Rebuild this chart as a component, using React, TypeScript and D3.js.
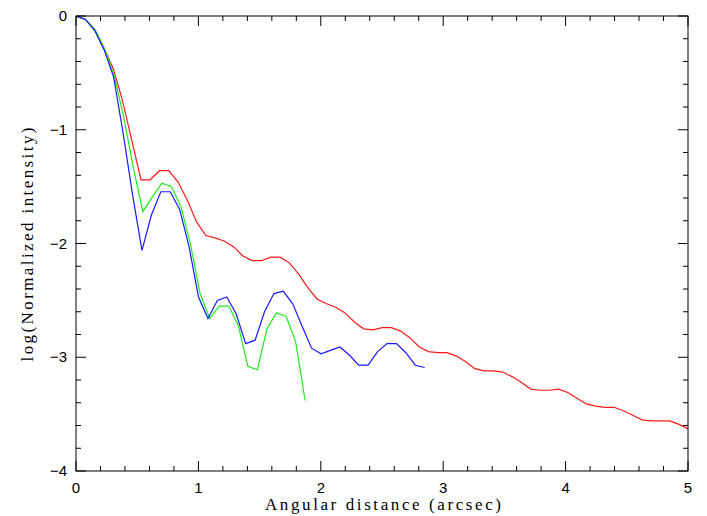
import React from "react";
import * as d3 from "d3";

// Sample radii (arcsec) for each profile
const radiusRed = [
  0, 0.076, 0.152, 0.227, 0.303, 0.379, 0.455, 0.531, 0.606, 0.682, 0.758,
  0.834, 0.910, 0.985, 1.061, 1.137, 1.213, 1.289, 1.364, 1.440, 1.516,
  1.592, 1.668, 1.743, 1.819, 1.895, 1.971, 2.047, 2.122, 2.198, 2.274,
  2.350, 2.426, 2.501, 2.577, 2.653, 2.729, 2.805, 2.880, 2.956, 3.032,
  3.108, 3.184, 3.259, 3.335, 3.411, 3.487, 3.563, 3.638, 3.714, 3.790,
  3.866, 3.942, 4.017, 4.093, 4.169, 4.245, 4.321, 4.396, 4.472, 4.548,
  4.624, 4.700, 4.775, 4.851, 4.927, 5.003,
];
const profileRed = [
  0, -0.03, -0.12, -0.28, -0.46, -0.74, -1.09, -1.44, -1.44, -1.36, -1.36,
  -1.46, -1.62, -1.81, -1.93, -1.95, -1.98, -2.03, -2.11, -2.15, -2.15,
  -2.12, -2.12, -2.17, -2.27, -2.39, -2.49, -2.53, -2.56, -2.61, -2.69,
  -2.75, -2.76, -2.74, -2.74, -2.77, -2.83, -2.91, -2.95, -2.96, -2.96,
  -2.99, -3.04, -3.1, -3.12, -3.12, -3.13, -3.17, -3.22, -3.28, -3.29,
  -3.29, -3.28, -3.31, -3.36, -3.41, -3.43, -3.44, -3.44, -3.47, -3.51,
  -3.55, -3.56, -3.56, -3.56, -3.59, -3.63,
];

const radiusBlue = [
  0, 0.077, 0.154, 0.231, 0.308, 0.385, 0.462, 0.539, 0.616, 0.693, 0.770,
  0.847, 0.924, 1.001, 1.078, 1.155, 1.232, 1.309, 1.386, 1.463, 1.540,
  1.617, 1.694, 1.771, 1.848, 1.925, 2.002, 2.079, 2.156, 2.233, 2.310,
  2.387, 2.464, 2.541, 2.618, 2.695, 2.772, 2.849,
];
const profileBlue = [
  0, -0.03, -0.13, -0.3, -0.54, -1.03, -1.57, -2.06, -1.75, -1.545, -1.545,
  -1.7, -2.03, -2.47, -2.66, -2.5, -2.47, -2.62, -2.88, -2.85, -2.6,
  -2.44, -2.42, -2.53, -2.73, -2.92, -2.97, -2.94, -2.91, -2.98, -3.07,
  -3.07, -2.95, -2.88, -2.88, -2.96, -3.07, -3.09,
];

const radiusGreen = [
  0, 0.078, 0.156, 0.234, 0.312, 0.39, 0.468, 0.546, 0.624, 0.702, 0.78,
  0.858, 0.936, 1.014, 1.092, 1.17, 1.248, 1.326, 1.404, 1.482, 1.56,
  1.638, 1.716, 1.794, 1.872,
];
const profileGreen = [
  0, -0.03, -0.12, -0.29, -0.52, -0.89, -1.33, -1.72, -1.59, -1.47, -1.5,
  -1.68, -2.01, -2.44, -2.66, -2.55, -2.55, -2.72, -3.08, -3.11, -2.75,
  -2.61, -2.64, -2.86, -3.38,
];

const xMajorTicks = [0, 1, 2, 3, 4, 5];
const yMajorTicks = [0, -1, -2, -3, -4];
const xTitle = "Angular distance (arcsec)";
const yTitle = "log(Normalized intensity)";

const W = 707;
const H = 516;
const left = 76;
const right = 688;
const top = 16;
const bottom = 471;

export default function App() {
  const x = d3.scaleLinear().domain([0, 5]).range([left, right]);
  const y = d3.scaleLinear().domain([-4, 0]).range([bottom, top]);

  const mk = (rs: number[], vs: number[]) =>
    d3
      .line<number>()
      .x((_, i) => x(rs[i]))
      .y((v) => y(v))(vs) || "";

  const series = [
    { r: radiusRed, v: profileRed, color: "#ff1a1a" },
    { r: radiusGreen, v: profileGreen, color: "#1aee1a" },
    { r: radiusBlue, v: profileBlue, color: "#1a1aff" },
  ];

  const xMinor = d3.range(0, 5.0001, 0.2).filter((t) => Math.abs(t - Math.round(t)) > 1e-6);
  const yMinor = d3.range(-4, 0.0001, 0.2).filter((t) => Math.abs(t - Math.round(t)) > 1e-6);
  const majL = 10;
  const minL = 5;

  const fmt = (v: number) => (v < 0 ? "\u2212" + Math.abs(v) : String(v));

  return (
    <svg
      width={W}
      height={H}
      style={{ position: "absolute", left: 0, top: 0, background: "#fff" }}
    >
      <defs>
        <clipPath id="plotclip">
          <rect x={left} y={top} width={right - left} height={bottom - top} />
        </clipPath>
      </defs>
      <rect x={0} y={0} width={W} height={H} fill="#fff" />

      <g clipPath="url(#plotclip)">
        {series.map((s, i) => (
          <path key={i} d={mk(s.r, s.v)} fill="none" stroke={s.color} strokeWidth={1.2} strokeLinejoin="miter" />
        ))}
      </g>

      <g stroke="#000" strokeWidth={1}>
        <rect x={left} y={top} width={right - left} height={bottom - top} fill="none" />
        {xMajorTicks.map((t) => (
          <g key={"xM" + t}>
            <line x1={x(t)} x2={x(t)} y1={bottom} y2={bottom - majL} />
            <line x1={x(t)} x2={x(t)} y1={top} y2={top + majL} />
          </g>
        ))}
        {xMinor.map((t, i) => (
          <g key={"xm" + i}>
            <line x1={x(t)} x2={x(t)} y1={bottom} y2={bottom - minL} />
            <line x1={x(t)} x2={x(t)} y1={top} y2={top + minL} />
          </g>
        ))}
        {yMajorTicks.map((t) => (
          <g key={"yM" + t}>
            <line x1={left} x2={left + majL} y1={y(t)} y2={y(t)} />
            <line x1={right} x2={right - majL} y1={y(t)} y2={y(t)} />
          </g>
        ))}
        {yMinor.map((t, i) => (
          <g key={"ym" + i}>
            <line x1={left} x2={left + minL} y1={y(t)} y2={y(t)} />
            <line x1={right} x2={right - minL} y1={y(t)} y2={y(t)} />
          </g>
        ))}
      </g>

      <g fontFamily="'Liberation Sans', Arial, sans-serif" fontSize={15} fill="#000">
        {xMajorTicks.map((t) => (
          <text key={"xl" + t} x={x(t)} y={bottom + 22} textAnchor="middle">
            {fmt(t)}
          </text>
        ))}
        {yMajorTicks.map((t) => (
          <text key={"yl" + t} x={left - 9} y={y(t) + 5} textAnchor="end">
            {fmt(t)}
          </text>
        ))}
      </g>

      <g fontFamily="'Liberation Serif', 'Times New Roman', serif" fontSize={17} fill="#000">
        <text x={(left + right) / 2 + 1} y={510} textAnchor="middle" textLength={236} lengthAdjust="spacing">
          {xTitle}
        </text>
        <text
          transform={`translate(33, ${(top + bottom) / 2 + 1}) rotate(-90)`}
          textAnchor="middle"
          textLength={234}
          lengthAdjust="spacing"
        >
          {yTitle}
        </text>
      </g>
    </svg>
  );
}
